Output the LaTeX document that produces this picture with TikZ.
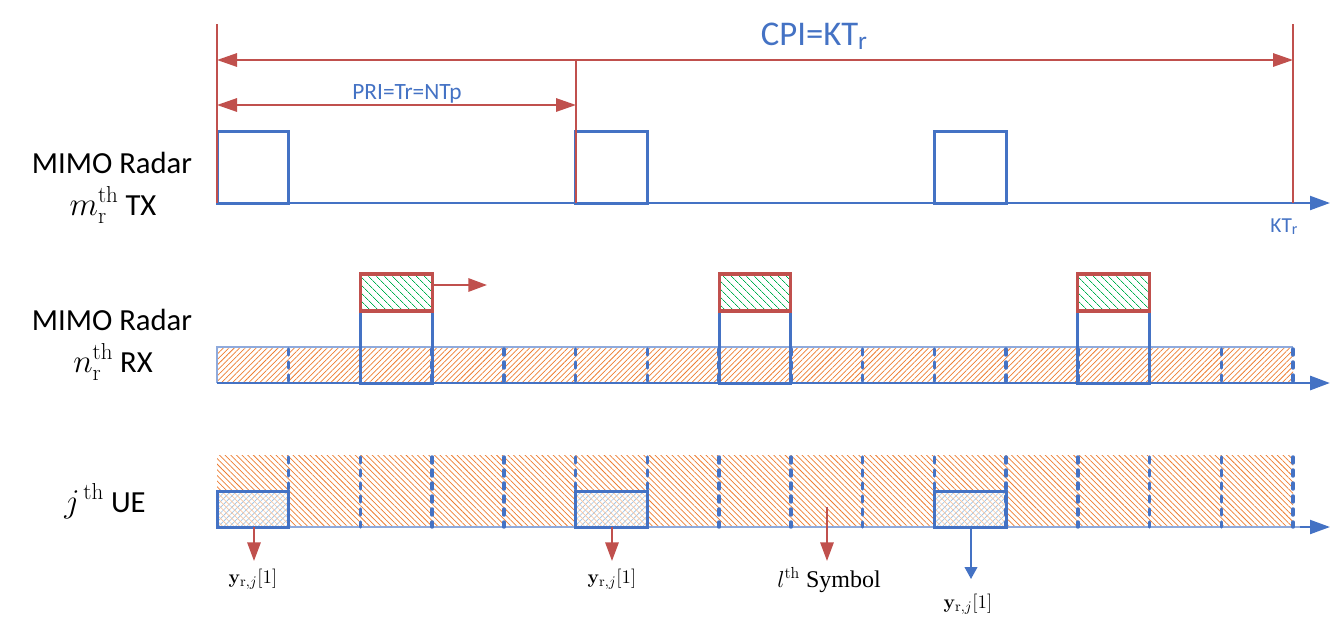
\documentclass[tikz,border=0pt]{standalone}
\usepackage[no-math]{fontspec}
\setmainfont{Carlito}
\newfontfamily\tnr{Liberation Serif}
\usetikzlibrary{arrows.meta,patterns.meta}
\definecolor{cblue}{HTML}{4472C4}
\definecolor{cred}{HTML}{C0504D}
\definecolor{corange}{HTML}{ED7D31}
\definecolor{cgreen}{HTML}{00B050}
\definecolor{clblue}{HTML}{8FAADC}
\definecolor{cxblue}{HTML}{9DC3E6}
\begin{document}
\begin{tikzpicture}[x=0.75pt,y=-0.75pt,
  lbl/.style={font=\fontsize{23}{28}\selectfont, anchor=base, inner sep=0pt, text depth=0pt},
  mlbl/.style={lbl, text height=12pt},
  bluetxt/.style={text=cblue, anchor=base, inner sep=0pt},
  ylbl/.style={font=\tnr\fontsize{15}{18}\selectfont, anchor=base, inner sep=0pt},
  redln/.style={draw=cred, line width=1.5pt},
  redarr/.style={redln, -{Triangle[length=14pt,width=10pt]}},
  dblarr/.style={redln, {Triangle[length=15pt,width=10pt]}-{Triangle[length=15pt,width=10pt]}},
  pulse/.style={draw=cblue, line width=2.25pt},
  tickln/.style={draw=cblue, line width=2.6pt, dash pattern=on 4.5pt off 5.25pt, line cap=round},
  greenbox/.style={draw=cred, line width=2.4pt, pattern={Lines[angle=-45,distance=4pt,line width=0.6pt]}, pattern color=cgreen},
  uebox/.style={draw=cblue, line width=2.25pt}
]
\useasboundingbox (0,0) rectangle (1332,626);
\def\gs{71.7333}

% ---------- left labels ----------
\node[lbl] (tx1) at (112,173) {MIMO Radar};
\node[mlbl] (tx2) at (113,215) {$m_{\mathrm{r}}^{\mathrm{th}}$ TX};
\node[lbl] (rx1) at (112,330) {MIMO Radar};
\node[mlbl] (rx2) at (113,372) {$n_{\mathrm{r}}^{\mathrm{th}}$ RX};
\node[lbl] (ue)  at (105,512) {$j^{\,\mathrm{th}}$ UE};

% ---------- top labels ----------
\node[bluetxt, font=\fontsize{26}{30}\selectfont] (cpi) at (814,45) {CPI=KT\raisebox{-0.12em}{\fontsize{19}{20}\selectfont r}};
\node[bluetxt, font=\fontsize{17.5}{20}\selectfont] (pri) at (407,99) {PRI=Tr=NTp};
\node[bluetxt, font=\fontsize{16}{18}\selectfont] (ktr) at (1284,232) {KT\raisebox{-0.1em}{\fontsize{12}{14}\selectfont r}};

% ---------- TX row ----------
\foreach \k in {0,5,10}{
  \pgfmathsetmacro\xa{217+\k*\gs}
  \pgfmathsetmacro\xb{217+(\k+1)*\gs}
  \draw[pulse] (\xa,203) rectangle (\xb,131);
}
\coordinate (txs) at (217,203);
\coordinate (txe) at (1330,203);
\draw[draw=cblue, line width=1.6pt, -{Triangle[length=15pt,width=10.5pt]}] (txs) -- (txe);

% red markers
\coordinate (l0t) at (217,24);  \coordinate (l0b) at (217,203);
\coordinate (l1t) at (576,60);  \coordinate (l1b) at (576,203);
\coordinate (l2t) at (1293,24); \coordinate (l2b) at (1293,203);
\draw[redln] (l0t) -- (l0b);
\draw[redln] (l1t) -- (l1b);
\draw[redln] (l2t) -- (l2b);
\coordinate (cpia) at (217,60); \coordinate (cpib) at (1293,60);
\draw[dblarr] (cpia) -- (cpib);
\coordinate (pria) at (217,105); \coordinate (prib) at (576,105);
\draw[dblarr] (pria) -- (prib);

% ---------- RX row ----------
\fill[pattern={Lines[angle=45,distance=2.9pt,line width=0.55pt]}, pattern color=corange] (217,347) rectangle (1293,383);
\draw[draw=clblue, line width=1.2pt] (217,383) -- (217,347) -- (1293,347);
\foreach \k in {1,...,15}{
  \pgfmathsetmacro\xa{217+\k*\gs}
  \draw[tickln] (\xa,349) -- (\xa,383);
}
\foreach \k in {2,7,12}{
  \pgfmathsetmacro\xa{217+\k*\gs}
  \pgfmathsetmacro\xb{217+(\k+1)*\gs}
  \draw[pulse] (\xa,311) rectangle (\xb,383);
  \draw[greenbox] (\xa,274) rectangle (\xb,311);
}
\coordinate (gba) at (433,285); \coordinate (gbb) at (487,285);
\draw[redarr] (gba) -- (gbb);
\coordinate (rxs) at (217,383);
\coordinate (rxe) at (1330,383);
\draw[draw=cblue, line width=2.2pt, -{Triangle[length=15pt,width=10.5pt]}] (rxs) -- (rxe);

% ---------- UE row ----------
\fill[pattern={Lines[angle=-45,distance=3pt,line width=0.55pt]}, pattern color=corange] (217,455) rectangle (1293,527);
\foreach \k in {0,5,10}{
  \pgfmathsetmacro\xa{217+\k*\gs}
  \pgfmathsetmacro\xb{217+(\k+1)*\gs}
  \fill[white] (\xa,491) rectangle (\xb,527);
  \fill[pattern={Lines[angle=45,distance=3pt,line width=0.5pt]}, pattern color=cxblue] (\xa,491) rectangle (\xb,527);
  \fill[pattern={Lines[angle=-45,distance=3pt,line width=0.5pt]}, pattern color=corange!45] (\xa,491) rectangle (\xb,527);
}
\coordinate (ues) at (217,527);
\coordinate (uee) at (1330,527);
\draw[draw=clblue, line width=1.6pt] (ues) -- (1310,527);
\draw[draw=cblue, line width=1.6pt, -{Triangle[length=15pt,width=10.5pt]}] (1300,527) -- (uee);
\foreach \k in {1,...,15}{
  \pgfmathsetmacro\xa{217+\k*\gs}
  \draw[tickln] (\xa,457) -- (\xa,527);
}
\foreach \k in {0,5,10}{
  \pgfmathsetmacro\xa{217+\k*\gs}
  \pgfmathsetmacro\xb{217+(\k+1)*\gs}
  \draw[uebox] (\xa,491) rectangle (\xb,527);
}

% bottom arrows and labels
\coordinate (y1s) at (254,527); \coordinate (y1e) at (254,561);
\coordinate (y2s) at (612,527); \coordinate (y2e) at (612,561);
\coordinate (lss) at (827,507); \coordinate (lse) at (827,561);
\coordinate (y3s) at (971,527); \coordinate (y3e) at (971,579);
\draw[redarr] (y1s) -- (y1e);
\draw[redarr] (y2s) -- (y2e);
\draw[redarr] (lss) -- (lse);
\draw[draw=cblue, line width=1.4pt, -{Triangle[length=9pt,width=9.5pt]}] (y3s) -- (y3e);

\node[ylbl] (y1) at (253,583) {$\mathbf{y}_{\mathrm{r},j}[1]$};
\node[ylbl] (y2) at (612,583) {$\mathbf{y}_{\mathrm{r},j}[1]$};
\node[ylbl] (y3) at (968,608) {$\mathbf{y}_{\mathrm{r},j}[1]$};
\node[ylbl, font=\tnr\fontsize{18}{20}\selectfont] (sym) at (829,587) {$l^{\mathrm{th}}$ Symbol};
\end{tikzpicture}
\end{document}
